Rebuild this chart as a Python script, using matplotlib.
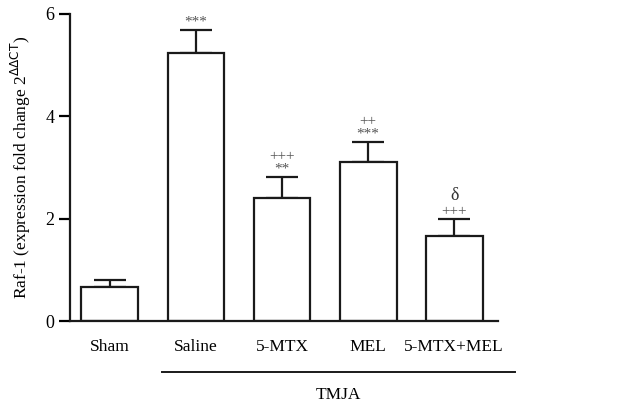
import matplotlib
matplotlib.use('Agg')
import matplotlib.pyplot as plt

groups = ['Sham', 'Saline', '5-MTX', 'MEL', '5-MTX+MEL']
means = [0.66, 5.23, 2.40, 3.10, 1.66]
sems = [0.14, 0.45, 0.41, 0.40, 0.33]
marks = [[], ['***'], ['**', '+++'], ['***', '++'], ['+++', '\u03b4']]

plt.rcParams['font.family'] = ['Liberation Serif', 'DejaVu Serif']

fig = plt.figure(figsize=(6.18, 4.04), dpi=100)
ax = fig.add_axes([0.113, 0.2054, 0.693, 0.760])

x = list(range(len(groups)))
ax.bar(x, means, width=0.66, color='white', edgecolor='#1a1a1a', linewidth=1.6, zorder=2)
ax.errorbar(x, means, yerr=[[0] * len(sems), sems], fmt='none', ecolor='#1a1a1a',
            elinewidth=1.6, capsize=11.5, capthick=1.6, zorder=1)

# significance marks stacked above each cap
for xi, m, s, labs in zip(x, means, sems, marks):
    y = m + s + 0.03
    for lab in labs:
        if lab == '\u03b4':
            ax.text(xi, y + 0.02, lab, ha='center', va='bottom', fontsize=13, color='#333333')
            y += 0.3
        else:
            ax.text(xi, y, lab, ha='center', va='bottom', fontsize=11, color='#555555')
            y += 0.24

ax.set_xlim(-0.465, 4.51)
ax.set_ylim(0, 6)
ax.set_yticks([0, 2, 4, 6])
ax.set_xticks([])
ax.spines['top'].set_visible(False)
ax.spines['right'].set_visible(False)
for sp in ['left', 'bottom']:
    ax.spines[sp].set_linewidth(1.6)
    ax.spines[sp].set_color('#1a1a1a')
ax.tick_params(axis='y', direction='out', length=8, width=1.6, labelsize=13, pad=3)

for xi, g in zip(x, groups):
    ax.text(xi, -0.5, g, ha='center', va='center', fontsize=12.5)

ax.set_ylabel('Raf-1 (expression fold change 2$^{\u0394\u0394\\mathrm{CT}}$)', fontsize=12.5, labelpad=9)

# TMJA bracket line under the treated groups
ax.plot([0.6, 4.71], [-1.0, -1.0], color='#1a1a1a', lw=1.4, clip_on=False)
ax.text(2.65, -1.45, 'TMJA', ha='center', va='center', fontsize=12.5)

fig.savefig('out.png', dpi=100)
